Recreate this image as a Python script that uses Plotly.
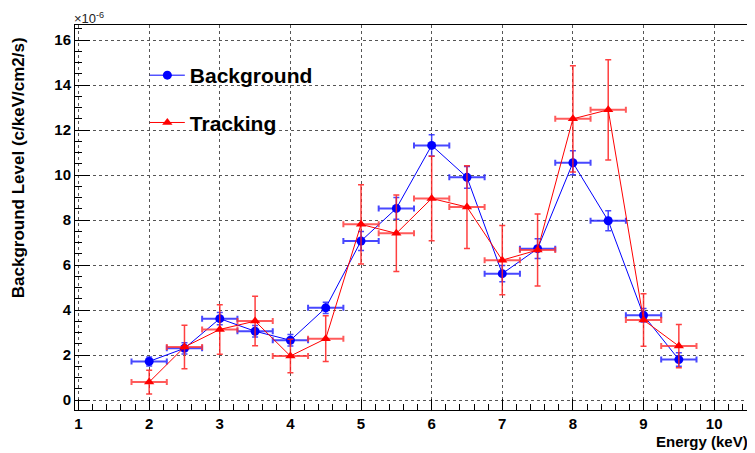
import plotly.graph_objects as go

energy = [2, 2.5, 3, 3.5, 4, 4.5, 5, 5.5, 6, 6.5, 7, 7.5, 8, 8.5, 9, 9.5]
energy_err = [0.25] * 16

background = [1.72, 2.3, 3.62, 3.06, 2.66, 4.1, 7.07, 8.52, 11.32, 9.9, 5.62, 6.73, 10.55, 7.97, 3.77, 1.8]
background_err = [0.2, 0.25, 0.27, 0.26, 0.26, 0.25, 0.42, 0.48, 0.47, 0.48, 0.36, 0.44, 0.53, 0.44, 0.3, 0.3]

tracking = [0.8, 2.36, 3.14, 3.51, 1.96, 2.73, 7.81, 7.41, 8.96, 8.58, 6.22, 6.67, 12.5, 12.9, 3.56, 2.4]
tracking_err = [0.53, 0.97, 1.1, 1.1, 0.74, 1.02, 1.76, 1.7, 1.88, 1.84, 1.54, 1.6, 2.36, 2.23, 1.17, 0.96]

x_ticks = [1, 2, 3, 4, 5, 6, 7, 8, 9, 10]
y_ticks = [0, 2, 4, 6, 8, 10, 12, 14, 16]

FONT = "Liberation Sans, Arial, sans-serif"

fig = go.Figure()
fig.add_trace(go.Scatter(
    x=energy, y=background, name="Background", mode="lines+markers",
    line=dict(color="#0000ff", width=1),
    marker=dict(symbol="circle", size=9, color="#0000ff"),
    error_x=dict(type="data", array=energy_err, color="rgba(40,40,255,0.85)", thickness=2, width=3),
    error_y=dict(type="data", array=background_err, color="rgba(40,40,255,0.85)", thickness=1.5, width=3),
    legendgroup="a",
))
fig.add_trace(go.Scatter(
    x=energy, y=tracking, name="Tracking", mode="lines+markers",
    line=dict(color="#ff0000", width=1),
    marker=dict(symbol="triangle-up", size=9, color="#ff0000"),
    error_x=dict(type="data", array=energy_err, color="rgba(255,50,50,0.8)", thickness=2, width=3),
    error_y=dict(type="data", array=tracking_err, color="rgba(255,30,30,0.85)", thickness=1.5, width=3),
    legendgroup="b",
))

axis_common = dict(
    showline=True, linecolor="black", linewidth=1, mirror=True,
    ticks="inside", tickcolor="black",
    showgrid=True, gridcolor="#555555", griddash="dot", gridwidth=1,
    zeroline=False, automargin=False,
    tickfont=dict(family=FONT, size=15, color="black", weight="bold"),
)

fig.update_xaxes(
    range=[0.95, 10.55], tickvals=x_ticks, ticklen=11,
    minor=dict(dtick=0.2, ticklen=6, ticks="inside", tickcolor="black", showgrid=False),
    **axis_common,
)
fig.update_yaxes(
    range=[-0.44, 16.67], tickvals=y_ticks, ticklen=15,
    minor=dict(dtick=0.5, ticklen=7, ticks="inside", tickcolor="black", showgrid=False),
    **axis_common,
)

# The page body adds an 8px offset, so the figure is 8px smaller with margins compensated.
fig.update_layout(
    width=747, height=445,
    margin=dict(l=67, r=2, t=17, b=43),
    plot_bgcolor="white", paper_bgcolor="white",
    showlegend=True,
    legend=dict(
        x=0.103, y=0.922, xanchor="left", yanchor="top",
        bgcolor="rgba(255,255,255,0)", borderwidth=0,
        font=dict(family=FONT, size=21, color="black", weight="bold"),
        traceorder="grouped", tracegroupgap=17, itemwidth=35,
    ),
    annotations=[
        dict(text="Background Level (c/keV/cm2/s)", xref="paper", yref="paper",
             x=-0.083, y=0.63, xanchor="center", yanchor="middle", textangle=-90,
             showarrow=False, font=dict(family=FONT, size=17, color="black", weight="bold")),
        dict(text="Energy (keV)", xref="paper", yref="paper",
             x=1.0, y=-0.055, xanchor="right", yanchor="top", xshift=-3,
             showarrow=False, font=dict(family=FONT, size=15, color="black", weight="bold")),
        dict(text="×10<sup>-6</sup>", xref="paper", yref="paper",
             x=-0.004, y=1.0, xanchor="left", yanchor="bottom", yshift=-3,
             showarrow=False, font=dict(family=FONT, size=13, color="#222222")),
    ],
)

fig.write_html("out.html")
